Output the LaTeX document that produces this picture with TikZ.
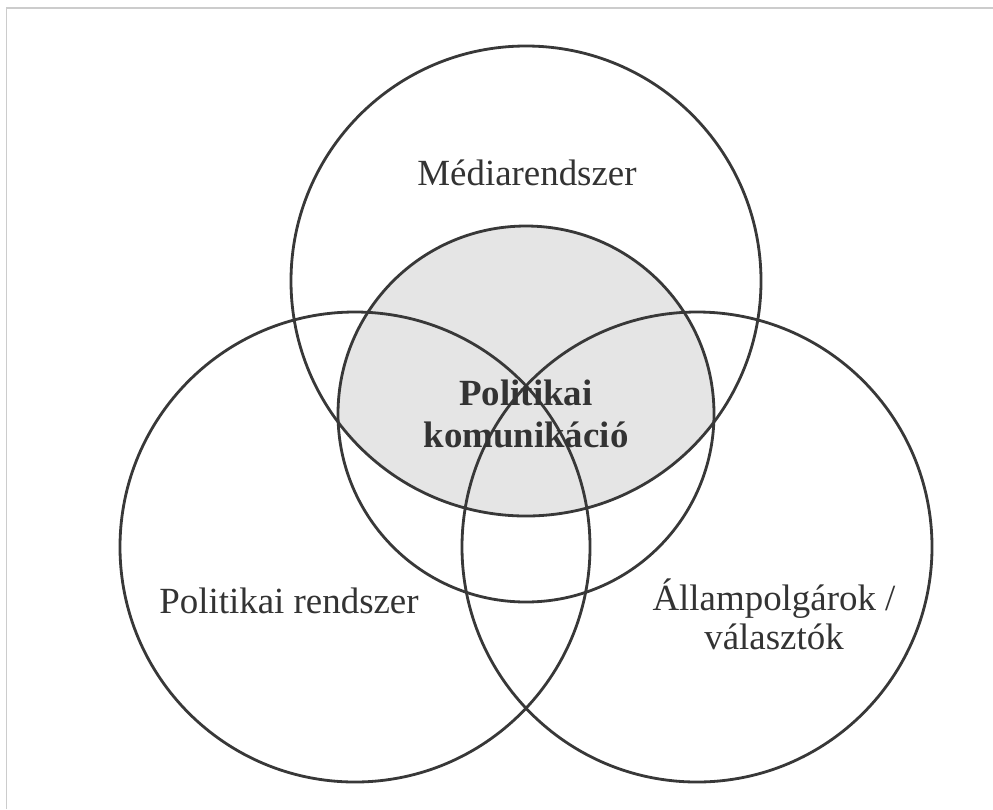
\documentclass[tikz,border=0pt]{standalone}
\usepackage{fontspec}
\setmainfont{Liberation Serif}

\begin{document}
\begin{tikzpicture}[x=0.02cm, y=-0.02cm,
    ring/.style={draw=black!78, line width=1.6pt},
    venntext/.style={text=black!80, font=\fontsize{21}{22}\selectfont, inner sep=0pt}]
      \useasboundingbox (0,0) rectangle (993,809);

      % frame of the figure
      \draw[black!20, line width=0.9pt] (6.5,809) -- (6.5,8) -- (993,8);

      % centres of the circles
      \coordinate (media) at (526, 281);
      \coordinate (pol) at (355, 547);
      \coordinate (citizen) at (697, 547);
      \coordinate (comm) at (526, 414);

      % shaded part: communication inside the media system
      \begin{scope}
        \clip (media) circle (235);
        \fill[black!10] (comm) circle (188);
      \end{scope}

      \draw[ring] (media) circle (235);
      \draw[ring] (pol) circle (235);
      \draw[ring] (citizen) circle (235);
      \draw[ring] (comm) circle (188);

      \node[venntext, anchor=base] (mediatext) at (527, 185) {Médiarendszer};
      \node[venntext, anchor=base] (poltext) at (289, 613) {Politikai rendszer};
      \node[venntext, align=center, font=\fontsize{21}{22.1}\selectfont] (citizentext) at (774, 614) {Állampolgárok /\\választók};
      \node[venntext, align=center, font=\bfseries\fontsize{21}{23.8}\selectfont] (commtext) at (526, 414) {Politikai\\komunikáció};
\end{tikzpicture}
\end{document}
